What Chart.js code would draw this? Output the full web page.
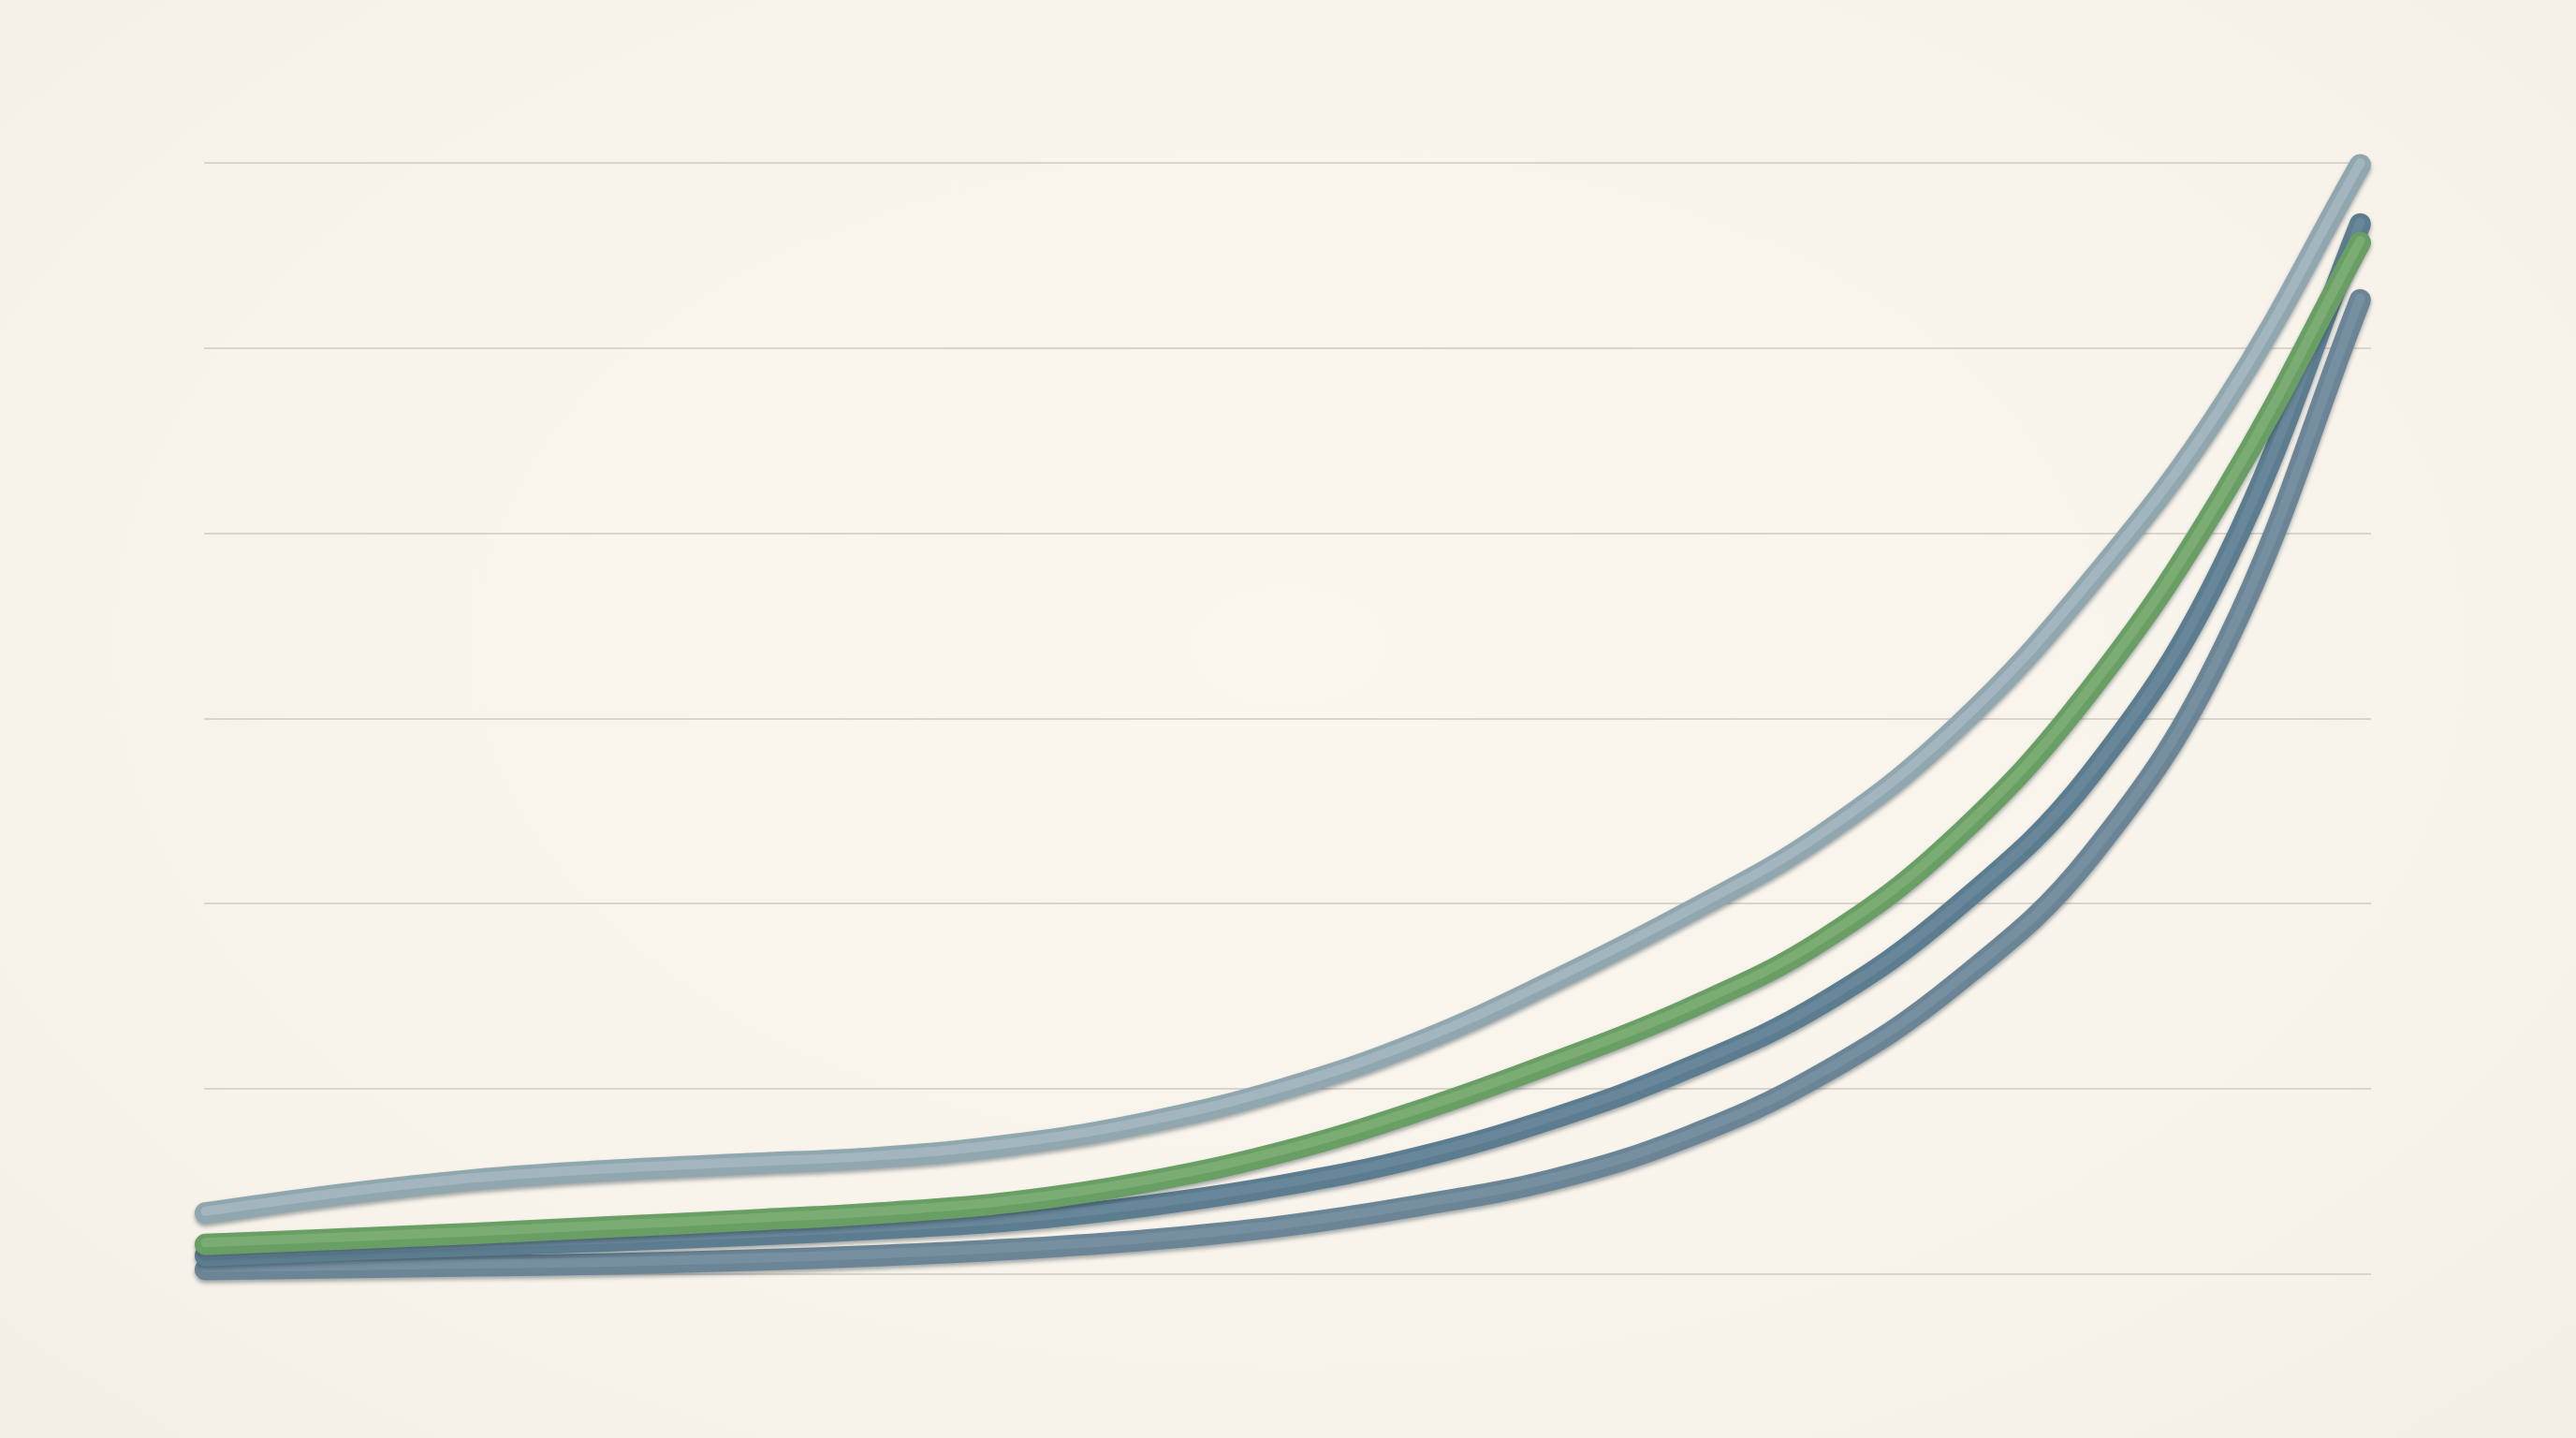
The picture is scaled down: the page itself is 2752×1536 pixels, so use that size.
<!DOCTYPE html>
<html>
<head>
<meta charset="utf-8">
<script src="https://cdn.jsdelivr.net/npm/chart.js@4.4.1/dist/chart.umd.min.js"></script>
<style>
  html, body { margin: 0; padding: 0; background: #f8f5ec; overflow: hidden; }
  #wrap { width: 2752px; height: 1536px; position: relative;
    background: radial-gradient(ellipse at 50% 45%, #faf7ef 0%, #f7f3ea 70%, #f3efe5 100%); }
  canvas { display: block; }
</style>
</head>
<body>
<div id="wrap"><canvas id="c" width="2752" height="1536"></canvas></div>
<script>
// x positions (category index), 17 evenly spaced points
const categories = [0, 1, 2, 3, 4, 5, 6, 7, 8, 9, 10, 11, 12, 13, 14, 15, 16];

// series values (y scale 0..60)
const seriesTop    = [3.3, 4.3, 5.1, 5.6, 5.95, 6.3, 7.0, 8.2, 10.0, 12.5, 15.8, 19.5, 23.7, 29.5, 37.4, 47.1, 59.9];
const seriesGreen  = [1.6, 1.9, 2.2, 2.55, 2.9, 3.3, 3.9, 5.0, 6.6, 8.8, 11.4, 14.3, 18.0, 23.6, 31.6, 42.3, 55.7];
const seriesMiddle = [1.0, 1.3, 1.55, 1.8, 2.1, 2.45, 2.9, 3.7, 4.8, 6.3, 8.4, 11.1, 14.6, 19.8, 27.0, 38.5, 56.7];
const seriesBottom = [0.25, 0.35, 0.45, 0.55, 0.75, 1.0, 1.35, 1.85, 2.6, 3.7, 5.1, 7.4, 10.8, 15.7, 22.6, 34.0, 52.6];

// y tick values (gridlines only, labels not shown)
const yTicks = [0, 10, 20, 30, 40, 50, 60];

function pts(values) {
  return categories.map((c, i) => ({ x: c, y: values[i] }));
}

const highlights = ['rgba(205,218,224,0.30)', 'rgba(150,172,188,0.28)', 'rgba(140,166,182,0.28)', 'rgba(165,205,155,0.30)'];

const tubePlugin = {
  id: 'tube',
  beforeDatasetDraw(chart) {
    const ctx = chart.ctx;
    ctx.save();
    ctx.shadowColor = 'rgba(35, 50, 60, 0.40)';
    ctx.shadowBlur = 4;
    ctx.shadowOffsetX = 0;
    ctx.shadowOffsetY = 3;
  },
  afterDatasetDraw(chart, args) {
    const ctx = chart.ctx;
    ctx.restore();
    const line = args.meta.dataset;
    if (!line) return;
    const o = line.options;
    const oc = o.borderColor, ow = o.borderWidth;
    ctx.save();
    ctx.translate(0, -2);
    o.borderColor = highlights[args.index];
    o.borderWidth = 10;
    line.draw(ctx, chart.chartArea);
    o.borderColor = oc; o.borderWidth = ow;
    ctx.restore();
  }
};

function ds(label, values, color, order) {
  return {
    label,
    data: pts(values),
    borderColor: color,
    borderWidth: 23,
    borderCapStyle: 'round',
    borderJoinStyle: 'round',
    pointRadius: 0,
    pointHoverRadius: 0,
    fill: false,
    clip: false,
    tension: 0.4,
    order
  };
}

new Chart(document.getElementById('c'), {
  type: 'line',
  data: {
    datasets: [
      ds('A', seriesTop, '#91a7b0', 3),
      ds('D', seriesBottom, '#6b8597', 2),
      ds('C', seriesMiddle, '#5c7c8f', 1),
      ds('B', seriesGreen, '#699e64', 0)
    ]
  },
  options: {
    responsive: false,
    devicePixelRatio: 1,
    animation: false,
    layout: { padding: { left: 218, right: 219, top: 174, bottom: 175 } },
    plugins: { legend: { display: false }, tooltip: { enabled: false } },
    scales: {
      x: {
        type: 'linear',
        min: -0.01,
        max: 16.08,
        display: false
      },
      y: {
        min: yTicks[0],
        max: yTicks[yTicks.length - 1],
        afterBuildTicks(scale) { scale.ticks = yTicks.map(v => ({ value: v })); },
        ticks: { display: false },
        border: { display: false },
        grid: { color: '#d9d4cc', lineWidth: 2, drawTicks: false }
      }
    }
  },
  plugins: [tubePlugin]
});
</script>
</body>
</html>
